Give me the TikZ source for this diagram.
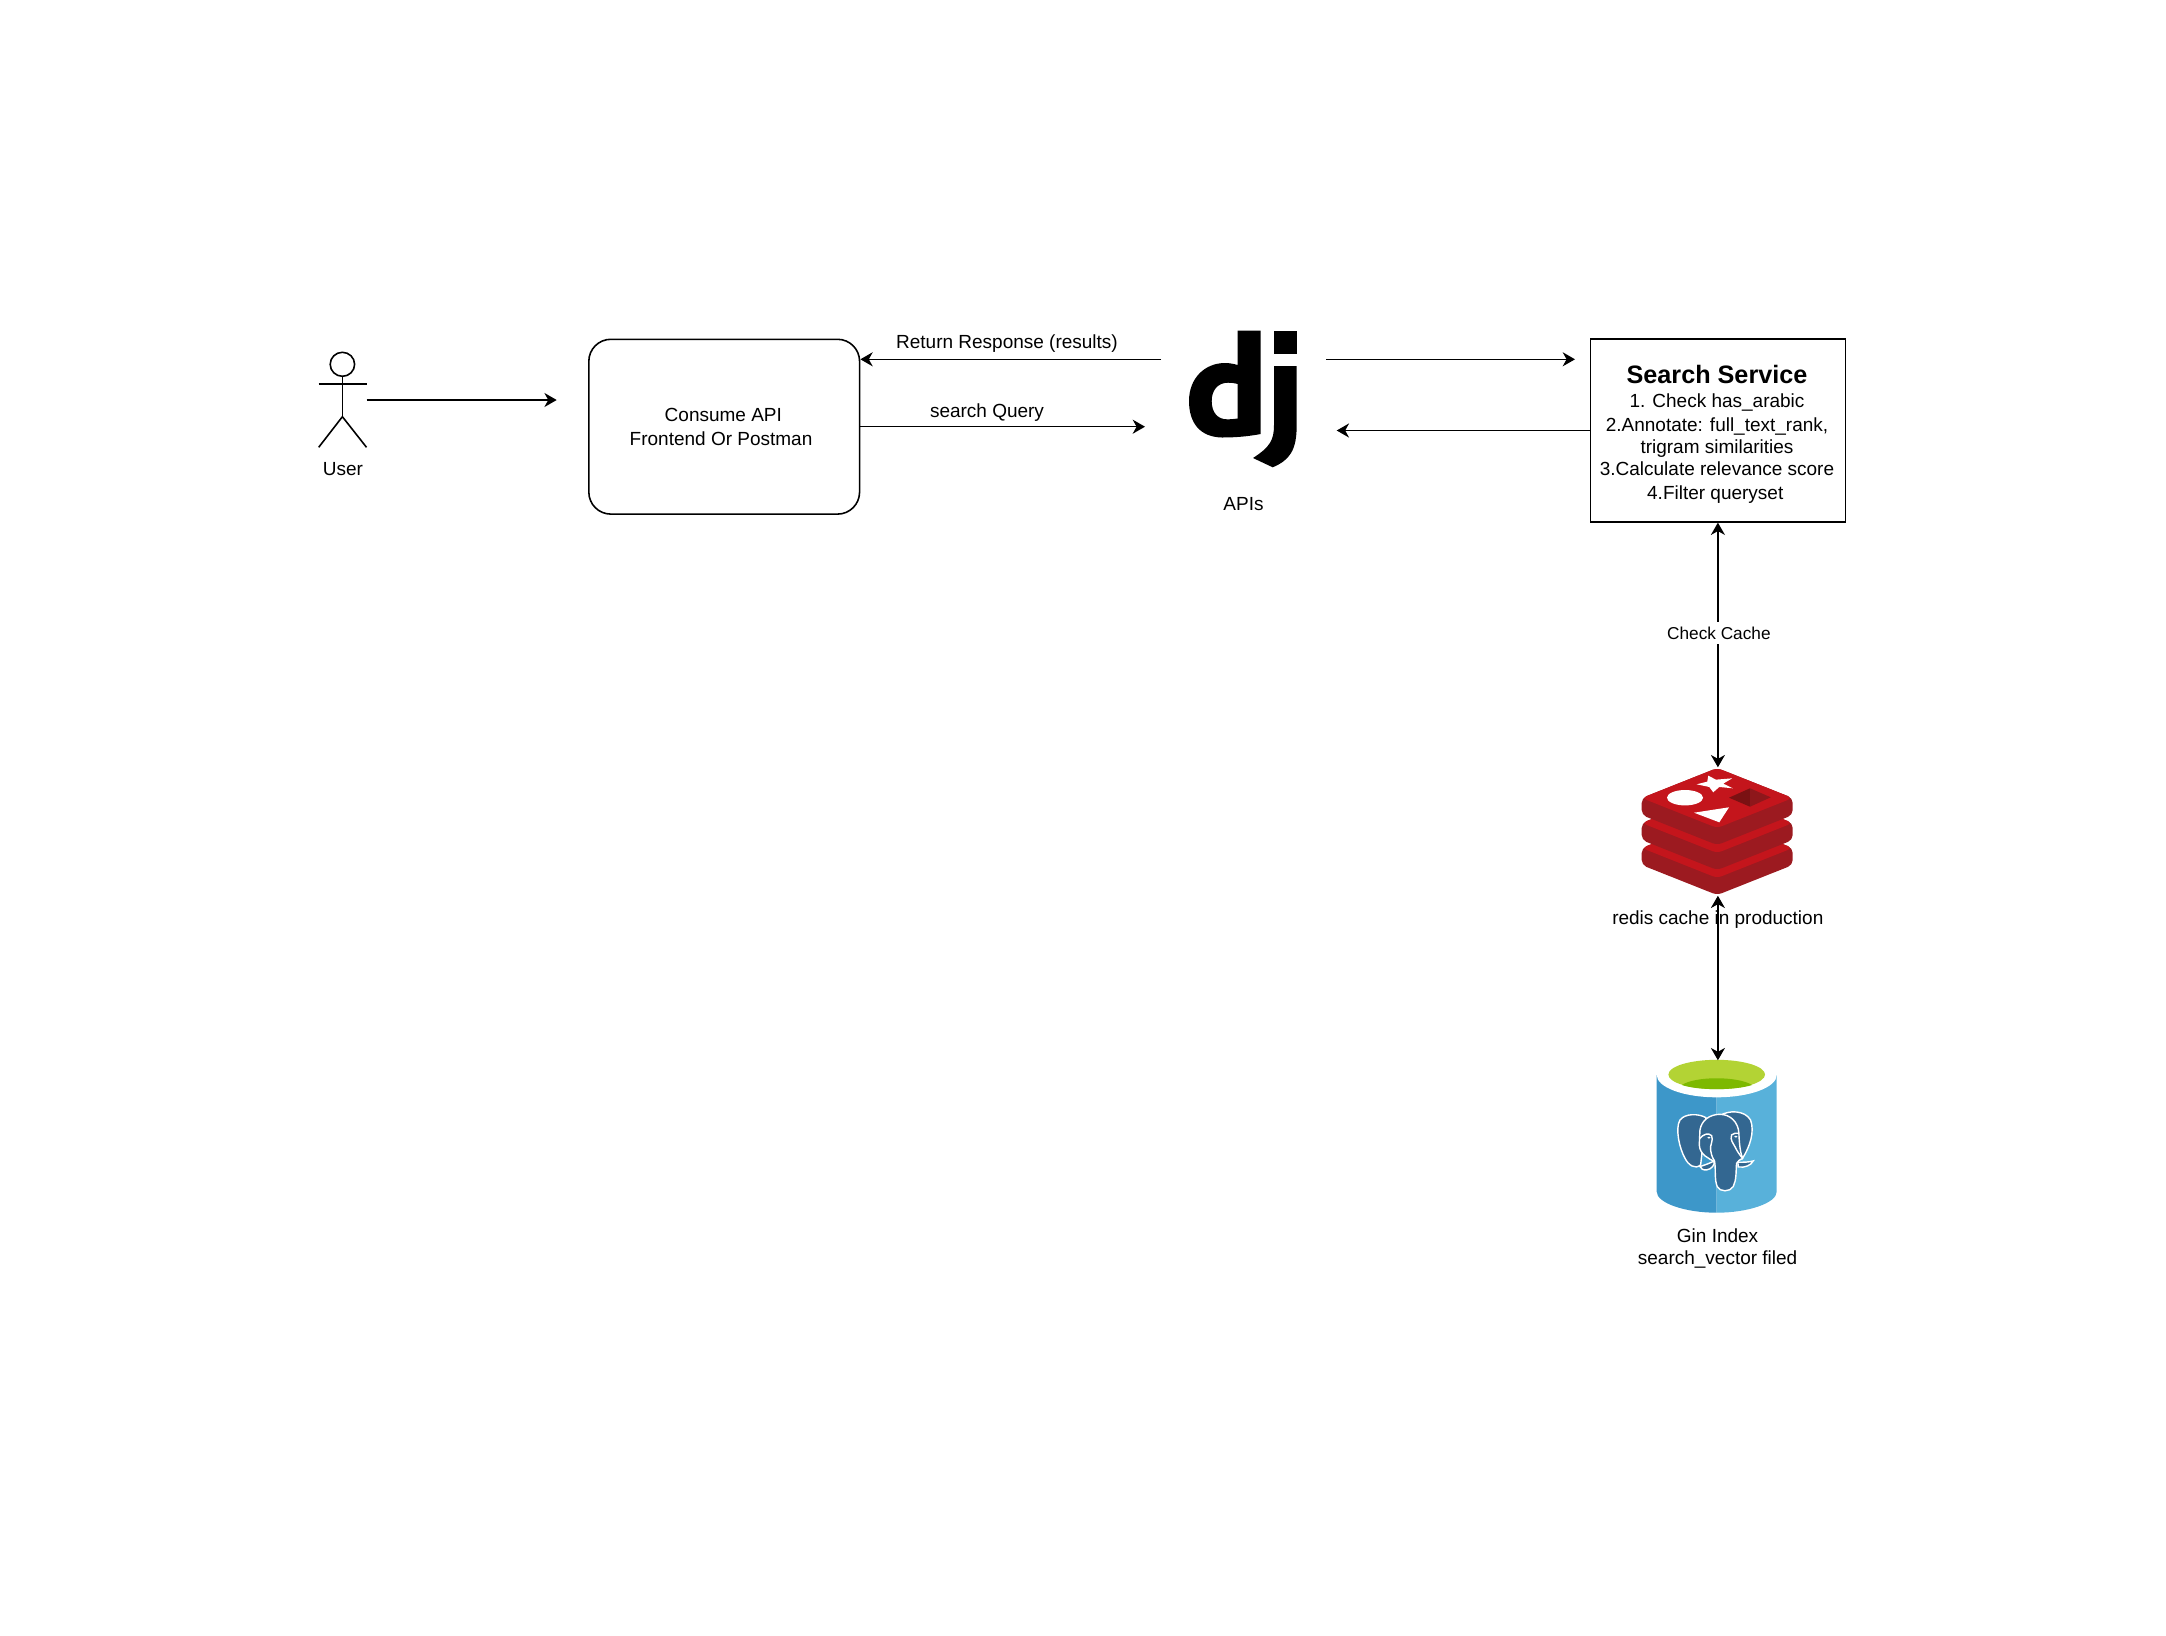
\documentclass[tikz,border=0pt]{standalone}
\usepackage{fontspec}
\setmainfont{Liberation Sans}
\usetikzlibrary{arrows.meta}
\usetikzlibrary{shapes.geometric}

\definecolor{redisface}{HTML}{C4151C}
\definecolor{redisside}{HTML}{9C1A20}
\definecolor{redissqa}{HTML}{7A1113}
\definecolor{redissqb}{HTML}{8E171B}
\definecolor{pgleft}{HTML}{3D97C9}
\definecolor{pgright}{HTML}{58B1DA}
\definecolor{pggreen}{HTML}{B3D334}
\definecolor{pgdeep}{HTML}{7DB900}
\definecolor{pgblue}{HTML}{336791}

\tikzset{
  arr/.style={line width=.45pt, -{Stealth[length=3.5pt, width=4pt, inset=1.1pt]}},
  twoway/.style={line width=.45pt, {Stealth[length=3.5pt, width=4pt, inset=1.1pt]}-{Stealth[length=3.5pt, width=4pt, inset=1.1pt]}},
  lab/.style={font=\fontsize{5.4}{6.5}\selectfont, inner sep=0pt, align=center},
  stick/.style={line width=.45pt},
  ghost/.style={inner sep=0pt}
}

\begin{document}
\begin{tikzpicture}[x=.01cm, y=-.01cm]

        \useasboundingbox (0,0) rectangle (2166,1636);

        % user
        \node [draw, ellipse, stick, inner sep=0pt, minimum width=.244cm, minimum height=.24cm] (head) at (342.4,364.3) {};
        \coordinate (hip) at (342.4,416.7);
        \coordinate (armleft) at (318.7,384);
        \coordinate (armright) at (366.5,384);
        \coordinate (footleft) at (318.7,447.3);
        \coordinate (footright) at (366.5,447.3);
        \draw[stick] (head.south) -- (hip);
        \draw[stick] (armleft) -- (armright);
        \draw[stick] (footleft) -- (hip) -- (footright);
        \node [lab, anchor=base] (userlabel) at (343,475.5) {User};

        \node [draw, line width=.45pt, rounded corners=.22cm, lab, font=\fontsize{5.4}{6.9}\selectfont, minimum width=2.706cm, minimum height=1.747cm] (consume) at (724.2,426.7) {Consume API\hspace*{.5pt}\\Frontend Or Postman\hspace*{1.8pt}};

        \coordinate (userout) at (366.5,400);
        \coordinate (consumein) at (556.7,400);
        \draw[arr] (userout) -- (consumein);

        % django
        \node [ghost, minimum width=1.08cm, minimum height=1.37cm] (django) at (1243,399) {};
        \fill[black, even odd rule] (1237.7,330.7) -- (1260.7,330.7) -- (1260.7,434)
          .. controls (1245,437) and (1232,437.5) .. (1222,437.5)
          .. controls (1200,437) and (1189,423) .. (1189,401)
          .. controls (1189,378) and (1205,363) .. (1225,363)
          .. controls (1230,363) and (1234,364) .. (1237.7,365) -- cycle
          (1237.7,384) .. controls (1234,383) and (1231,382.7) .. (1228,382.7)
          .. controls (1218,382.7) and (1211.7,390) .. (1211.7,401)
          .. controls (1211.7,413) and (1218,419.3) .. (1227,419.3)
          .. controls (1231,419.3) and (1234,419) .. (1237.7,418.5) -- cycle;
        \fill[black] (1274,330.7) rectangle (1296.7,354);
        \fill[black] (1274,366) -- (1274,425)
          .. controls (1274,440) and (1270,447) .. (1253,458) -- (1272.7,467.3)
          .. controls (1290,460) and (1296.7,450) .. (1296.7,425) -- (1296.7,366) -- cycle;
        \node [lab, anchor=base] (apilabel) at (1243.5,510) {APIs};

        \coordinate (returnout) at (1161,359.3);
        \coordinate (queryin) at (1145,426.7);
        \coordinate (forwardout) at (1326,359.3);
        \coordinate (forwardin) at (1575,359.3);
        \coordinate (backin) at (1336.7,430.5);
        \draw[arr] (returnout) -- (consume.east |- returnout);
        \draw[arr] (consume.east |- queryin) -- (queryin);
        \node [lab, anchor=base] (returnlabel) at (1007,348.3) {Return Response (results)};
        \node [lab, anchor=base] (querylabel) at (987,417.3) {search Query};

        % search service
        \node [draw, line width=.5pt, minimum width=2.548cm, minimum height=1.824cm] (search) at (1717.9,430.5) {};
        \node [lab] (searchtext) at (1717,434.4) {{\fontsize{7.17}{6.5}\selectfont\bfseries Search Service}\\[.3pt]
          1. Check has\_arabic\\[.33pt]
          2.Annotate: full\_text\_rank,\\[-.11pt]
          trigram similarities\\[-.16pt]
          3.Calculate relevance score\\[.33pt]
          4.Filter queryset\hspace*{1pt}};
        \draw[arr] (forwardout) -- (forwardin);
        \draw[arr] (search.west) -- (backin);

        % redis
        \node [ghost, minimum width=1.51cm, minimum height=1.27cm] (redis) at (1717.9,831.5) {};
        \foreach \dy in {50,25,0} {
          \begin{scope}[shift={(1717.2,768+\dy)}]
            \fill[redisside, rounded corners=.05cm] (0,0) -- (75.5,30) -- (75.5,47) -- (0,77) -- (-75.5,47) -- (-75.5,30) -- cycle;
            \fill[redisface, rounded corners=.05cm] (0,0) -- (75.5,30) -- (0,60) -- (-75.5,30) -- cycle;
          \end{scope}
        }
        \fill[white] (1685,797.7) ellipse [x radius=18, y radius=7.7];
        \fill[white] (1694,812.7) -- (1729,807.3) -- (1719.3,822.3) -- cycle;
        \fill[redissqa] (1729,797.7) -- (1750,788.3) -- (1750,806.7) -- cycle;
        \fill[redissqb] (1750,788.3) -- (1770.7,797.3) -- (1750,806.7) -- cycle;
        \begin{scope}[shift={(1660,765)},x=.003333cm,y=-.003333cm]
          \fill[white] (145,32) -- (168,44) -- (217,40) -- (190,56) -- (219,70) -- (178,66) -- (160,82) -- (148,66) -- (110,58) -- (142,50) -- cycle;
        \end{scope}
        \node [lab, anchor=base] (redislabel) at (1717.8,924.3) {redis cache in production};

        % postgres
        \node [ghost, minimum width=1.2cm, minimum height=1.53cm] (pg) at (1717.9,1137.5) {};
        \fill[pgleft] (1716.7,1075) -- (1656.7,1075) -- (1656.7,1191.7) .. controls (1656.7,1203) and (1685,1212.7) .. (1716.7,1212.7) -- cycle;
        \fill[pgright] (1716.7,1075) -- (1776.7,1075) -- (1776.7,1191.7) .. controls (1776.7,1203) and (1748,1212.7) .. (1716.7,1212.7) -- cycle;
        \fill[white] (1716.7,1075) ellipse [x radius=60, y radius=22.3];
        \fill[pggreen] (1716.7,1074.5) ellipse [x radius=48.3, y radius=14.7];
        \fill[pgdeep] (1682,1085) .. controls (1695,1076) and (1738,1076) .. (1752,1085) .. controls (1735,1090.5) and (1698,1090.5) .. (1682,1085) -- cycle;
        \begin{scope}[shift={(1670,1105)},x=.003333cm,y=-.003333cm,line width=.4pt]
          \filldraw[fill=pgblue, draw=white] (108,38) .. controls (85,25) and (45,25) .. (30,45)
            .. controls (15,70) and (28,130) .. (45,160) .. controls (55,180) and (75,195) .. (92,180) -- cycle;
          \filldraw[fill=pgblue, draw=white] (150,32) .. controls (175,15) and (225,15) .. (242,45)
            .. controls (255,80) and (240,125) .. (218,160) -- (190,100) -- cycle;
          \filldraw[fill=pgblue, draw=white] (90,185) .. controls (105,180) and (120,175) .. (133,168)
            .. controls (135,180) and (125,193) .. (110,195) .. controls (100,196) and (93,192) .. (90,185) -- cycle;
          \filldraw[fill=pgblue, draw=white] (204,172) .. controls (220,172) and (238,172) .. (250,168)
            .. controls (245,180) and (225,190) .. (205,186) -- cycle;
          \filldraw[fill=pgblue, draw=white] (90,75) .. controls (95,45) and (120,28) .. (150,28)
            .. controls (180,28) and (205,50) .. (207,85) .. controls (208,110) and (210,140) .. (218,160)
            .. controls (210,165) and (203,168) .. (200,175) .. controls (198,200) and (200,225) .. (190,245)
            .. controls (180,262) and (150,262) .. (142,245) .. controls (133,225) and (138,190) .. (134,170)
            .. controls (115,160) and (90,150) .. (88,120) -- cycle;
          \draw[white] (90,100) .. controls (100,88) and (115,82) .. (125,92)
            .. controls (132,105) and (118,125) .. (122,135) .. controls (124,150) and (128,160) .. (134,168);
          \draw[white] (207,85) .. controls (200,83) and (190,85) .. (185,90)
            .. controls (180,105) and (190,115) .. (195,125) .. controls (202,140) and (210,150) .. (216,158);
          \fill[white] (117,98) ellipse [x radius=5, y radius=3];
          \fill[white] (198,95) ellipse [x radius=5, y radius=3];
        \end{scope}
        \node [lab, font=\fontsize{5.4}{6.2}\selectfont] (pglabel) at (1717.6,1248.6) {Gin Index\\search\_vector filed};

        % cache and index links
        \draw[twoway] (search.south) -- node [pos=.453, xshift=.01cm, fill=white, inner xsep=0pt, inner ysep=0pt, minimum height=.22cm, font=\fontsize{4.9}{6}\selectfont] (cachelabel) {Check Cache} (redis.north);
        \draw[twoway] (redis.south) -- (pg.north);

      \end{tikzpicture}
\end{document}
